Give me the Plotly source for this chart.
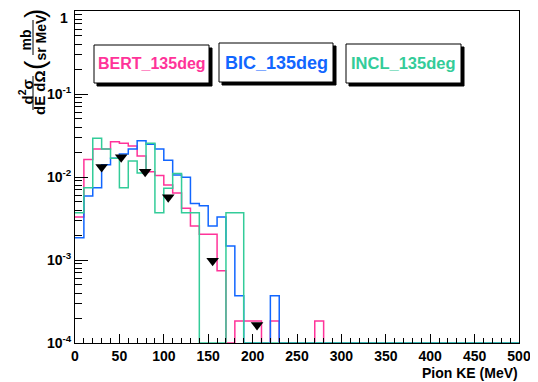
import plotly.graph_objects as go
import numpy as np

# ---------------- data ----------------
bin_width = 10
bin_low_edges = list(range(0, 500, 10))

bert_135 = [3.3e-3, 0.0163, 0.0217, 0.0217, 0.0266, 0.0255, 0.0236, 0.0179, 0.0116, 0.0104,
            8.0e-3, 6.4e-3, 4.2e-3, 2.57e-3, 2.04e-3, 2.04e-3, 7.4e-4, 0, 1.84e-4, 1.84e-4,
            1.84e-4, 0, 1.84e-4, 0, 0, 0, 0, 1.84e-4, 0, 0]
bic_135 = [1.86e-3, 5.9e-3, 7.4e-3, 0.0140, 0.0168, 0.0189, 0.0217, 0.0274, 0.0248, 0.0217,
           0.0159, 0.0106, 9.9e-3, 4.8e-3, 4.5e-3, 2.57e-3, 3.3e-3, 1.47e-3, 3.7e-4, 0,
           0, 0, 3.7e-4, 0, 0, 0, 0, 0, 0, 0]
incl_135 = [3.7e-3, 7.4e-3, 0.0292, 0.0217, 0.0168, 7.4e-3, 0.0156, 0.0112, 0.0255, 3.7e-3,
            7.3e-3, 0.011, 3.7e-3, 3.7e-3, 0, 0, 0, 3.7e-3, 3.7e-3, 0,
            0, 0, 0, 0, 0, 0, 0, 0, 0, 0]

exp_ke = [30, 52, 79, 105, 155, 205]
exp_xs = [0.0132, 0.0173, 0.0116, 5.7e-3, 9.8e-4, 1.65e-4]

model_names = ["BERT_135deg", "BIC_135deg", "INCL_135deg"]
model_colors = ["#ff3399", "#1166ff", "#33cc99"]

y_decades = [1e-4, 1e-3, 1e-2, 1e-1, 1]
y_ticktext = ["10<sup>-4</sup>", "10<sup>-3</sup>", "10<sup>-2</sup>", "10<sup>-1</sup>", ""]
y_top_label = "1"
x_tickvals = list(range(0, 501, 50))

YMIN, YMAX = 1e-4, 1.0

# ---------------- geometry helpers (layout only) ----------------
# the page body adds an 8px offset, so the figure is drawn 8px smaller
OFF = 8
W, H = 538 - OFF, 382 - OFF
ML, MR, MT, MB = 75 - OFF, 19, 11 - OFF, 39
PW, PH = W - ML - MR, H - MT - MB


def px(xs):
    return (xs - OFF - ML) / PW


def py(ys):
    return (H - MB - (ys - OFF)) / PH


FONT = "Liberation Sans"

fig = go.Figure()


def hist_trace(values, color, name):
    full = list(values) + [0] * (len(bin_low_edges) - len(values))
    vals = [max(v, YMIN) for v in full]
    xs = bin_low_edges + [bin_low_edges[-1] + bin_width]
    ys = vals + [vals[-1]]
    return go.Scatter(x=xs, y=ys, mode="lines", line=dict(color=color, width=1.5, shape="hv"),
                      name=name, showlegend=False, hoverinfo="skip")


for vals, col, nm in zip([bert_135, bic_135, incl_135], model_colors, model_names):
    fig.add_trace(hist_trace(vals, col, nm))

fig.add_trace(go.Scatter(x=exp_ke, y=exp_xs, mode="markers",
                         marker=dict(symbol="triangle-down", size=11, color="black"),
                         showlegend=False, cliponaxis=False))

minor_y = [k * 10.0 ** e for e in range(-4, 0) for k in range(2, 10)]

fig.update_layout(
    width=W, height=H,
    margin=dict(l=ML, r=MR, t=MT, b=MB, autoexpand=False),
    paper_bgcolor="white", plot_bgcolor="white",
    showlegend=False,
    xaxis=dict(range=[0, 500], tickvals=x_tickvals, ticks="inside", ticklen=9, tickcolor="black",
               showline=True, mirror=True, linecolor="black", linewidth=1,
               showgrid=False, zeroline=False, automargin=False,
               tickfont=dict(family=FONT, size=14, color="black", weight="bold"),
               minor=dict(dtick=10, ticks="inside", ticklen=5, tickcolor="black", showgrid=False)),
    yaxis=dict(type="log", range=[np.log10(YMIN), np.log10(YMAX)], tickvals=y_decades, ticktext=y_ticktext,
               ticks="inside", ticklen=13, tickcolor="black",
               showline=True, mirror=True, linecolor="black", linewidth=1,
               showgrid=False, zeroline=False, automargin=False,
               tickfont=dict(family=FONT, size=14, color="black", weight="bold"),
               minor=dict(tickmode="array", tickvals=minor_y, ticks="inside", ticklen=7,
                          tickcolor="black", showgrid=False)),
)

# top decade label "1" (kept inside the page)
fig.add_annotation(xref="paper", yref="paper", x=px(70), y=py(8), text=y_top_label,
                   showarrow=False, xanchor="right", yanchor="top",
                   font=dict(family=FONT, size=14, color="black", weight="bold"))

# legend boxes (TPaveText style with shadow)
boxes = [
    (94, 45, 209, 83, model_names[0], model_colors[0], 16),
    (219, 43, 333, 82, model_names[1], model_colors[1], 18),
    (346, 44, 461, 83, model_names[2], model_colors[2], 16.5),
]
for (x0, y0, x1, y1, txt, col, fs) in boxes:
    fig.add_shape(type="rect", xref="paper", yref="paper",
                  x0=px(x0 + 3), x1=px(x1 + 3), y0=py(y1 + 3), y1=py(y0 + 3),
                  fillcolor="black", line=dict(color="black", width=1), layer="above")
    fig.add_shape(type="rect", xref="paper", yref="paper",
                  x0=px(x0), x1=px(x1), y0=py(y1), y1=py(y0),
                  fillcolor="white", line=dict(color="black", width=1), layer="above")
    fig.add_annotation(xref="paper", yref="paper", x=px((x0 + x1) / 2), y=py((y0 + y1) / 2),
                       text=txt, showarrow=False, xanchor="center", yanchor="middle",
                       font=dict(family=FONT, size=fs, color=col, weight="bold"))

# x title
fig.add_annotation(xref="paper", yref="paper", x=px(520), y=py(373), text="Pion KE (MeV)",
                   showarrow=False, xanchor="right", yanchor="middle",
                   font=dict(family=FONT, size=14, color="black", weight="bold"))

# y title built as a rotated fraction
for (xc, yc, txt, fs) in [(25.5, 92, "d<sup>2</sup>σ", 15), (40, 93, "dE dΩ", 15),
                          (25.5, 40, "mb", 14), (40.5, 37, "sr MeV", 14)]:
    fig.add_annotation(xref="paper", yref="paper", x=px(xc), y=py(yc), text=txt, textangle=-90,
                       showarrow=False, xanchor="center", yanchor="middle",
                       font=dict(family=FONT, size=fs, color="black", weight="bold"))
for (xc, yc, txt) in [(34, 65, "("), (34, 14, ")")]:
    fig.add_annotation(xref="paper", yref="paper", x=px(xc), y=py(yc), text=txt, textangle=-90,
                       showarrow=False, xanchor="center", yanchor="middle",
                       font=dict(family=FONT, size=28, color="black"))
for (ya, yb) in [(76, 110), (20, 55)]:
    fig.add_shape(type="line", xref="paper", yref="paper", x0=px(33), x1=px(33),
                  y0=py(ya), y1=py(yb), line=dict(color="black", width=1))

fig.write_html("out.html")
